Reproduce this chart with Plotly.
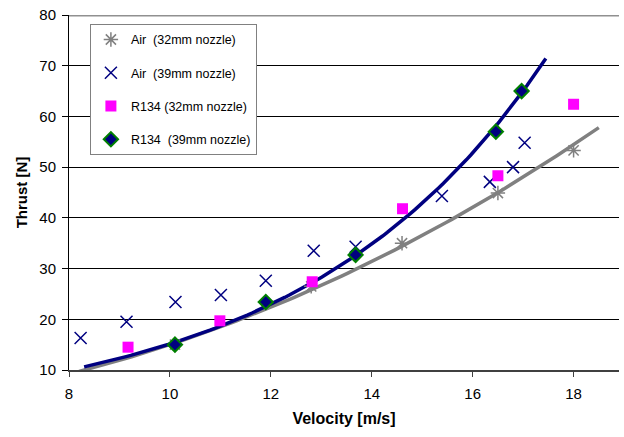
import numpy as np
import plotly.graph_objects as go

# ---- data ----
air32_v = [10.1, 12.8, 14.6, 16.5, 18.0]
air32_t = [15.0, 26.5, 35.0, 44.9, 53.3]

air39_v = [8.23, 9.14, 10.11, 11.01, 11.9, 12.85, 13.68, 15.39, 16.34, 16.8, 17.03]
air39_t = [16.3, 19.5, 23.4, 24.8, 27.6, 33.5, 34.3, 44.3, 47.1, 50.0, 54.8]

r32_v = [9.17, 10.99, 12.82, 14.61, 16.5, 18.0]
r32_t = [14.5, 19.7, 27.4, 41.8, 48.3, 62.4]

r39_v = [10.1, 11.9, 13.68, 16.46, 16.97]
r39_t = [15.0, 23.4, 32.7, 57.0, 65.0]

x_ticks = [8, 10, 12, 14, 16, 18]
y_ticks = [10, 20, 30, 40, 50, 60, 70, 80]

# trendline extents (Excel forecast forward/backward)
air32_trend_range = (8.2, 18.5)
r39_trend_range = (8.3, 17.45)

# power fit (Air 32mm) and exponential fit (R134 39mm), like Excel trendlines
b_pow, a_pow = np.polyfit(np.log(air32_v), np.log(air32_t), 1)
xs_pow = np.linspace(*air32_trend_range, 100)
ys_pow = np.exp(a_pow) * xs_pow ** b_pow

b_exp, a_exp = np.polyfit(r39_v, np.log(r39_t), 1)
xs_exp = np.linspace(*r39_trend_range, 100)
ys_exp = np.exp(a_exp) * np.exp(b_exp * xs_exp)

FONT = "Liberation Sans, Arial"

fig = go.Figure()

fig.add_trace(go.Scatter(x=xs_pow, y=ys_pow, mode="lines",
                         line=dict(color="#808080", width=3.5),
                         showlegend=False, hoverinfo="skip"))
fig.add_trace(go.Scatter(x=xs_exp, y=ys_exp, mode="lines",
                         line=dict(color="#000080", width=3.5),
                         showlegend=False, hoverinfo="skip"))

fig.add_trace(go.Scatter(x=air32_v, y=air32_t, mode="markers", name="Air  (32mm nozzle)",
                         legendgroup="a", marker=dict(symbol="asterisk-open", size=12,
                         color="#808080", line=dict(color="#808080", width=1.5))))
fig.add_trace(go.Scatter(x=air39_v, y=air39_t, mode="markers", name="Air  (39mm nozzle)",
                         legendgroup="b", marker=dict(symbol="x-thin-open", size=12,
                         color="#000080", line=dict(color="#000080", width=1.5))))
fig.add_trace(go.Scatter(x=r32_v, y=r32_t, mode="markers", name="R134 (32mm nozzle)",
                         legendgroup="c", marker=dict(symbol="square", size=11, color="#FF00FF")))
fig.add_trace(go.Scatter(x=r39_v, y=r39_t, mode="markers", name="R134  (39mm nozzle)",
                         legendgroup="d", marker=dict(symbol="diamond", size=11, color="#000080",
                         line=dict(color="#008000", width=2))))

fig.update_layout(
    width=624, height=437,
    margin=dict(l=69, r=5, t=15, b=67, autoexpand=False),
    paper_bgcolor="white", plot_bgcolor="white",
    font=dict(family=FONT, size=15, color="black"),
    legend=dict(x=0.038, y=0.975, xanchor="left", yanchor="top",
                bordercolor="#808080", borderwidth=1, bgcolor="white",
                font=dict(family=FONT, size=12.5),
                traceorder="grouped", tracegroupgap=14),
    xaxis=dict(range=[8, 18.9], tickvals=x_ticks, showgrid=False, automargin=False,
               showline=True, linecolor="#404040", linewidth=2,
               ticks="outside", ticklen=5, tickcolor="#404040",
               ticklabelstandoff=4, zeroline=False,
               title=dict(text="<b>Velocity [m/s]</b>", font=dict(family=FONT, size=16), standoff=12)),
    yaxis=dict(range=[10, 80], tickvals=y_ticks, showgrid=True, gridcolor="black", gridwidth=1,
               showline=True, linecolor="black", linewidth=1, automargin=False,
               ticks="outside", ticklen=6, tickcolor="black",
               ticklabelstandoff=3, ticklabeloverflow="allow", zeroline=False,
               title=dict(text="<b>Thrust [N]</b>", font=dict(family=FONT, size=15), standoff=8)),
    shapes=[dict(type="line", xref="paper", yref="y", x0=0, x1=1, y0=80, y1=80,
                 line=dict(color="#909090", width=3), layer="above")],
)

fig.write_html("out.html", config={"displayModeBar": False},
               post_script="document.body.style.margin='0';document.body.style.overflow='hidden';")
